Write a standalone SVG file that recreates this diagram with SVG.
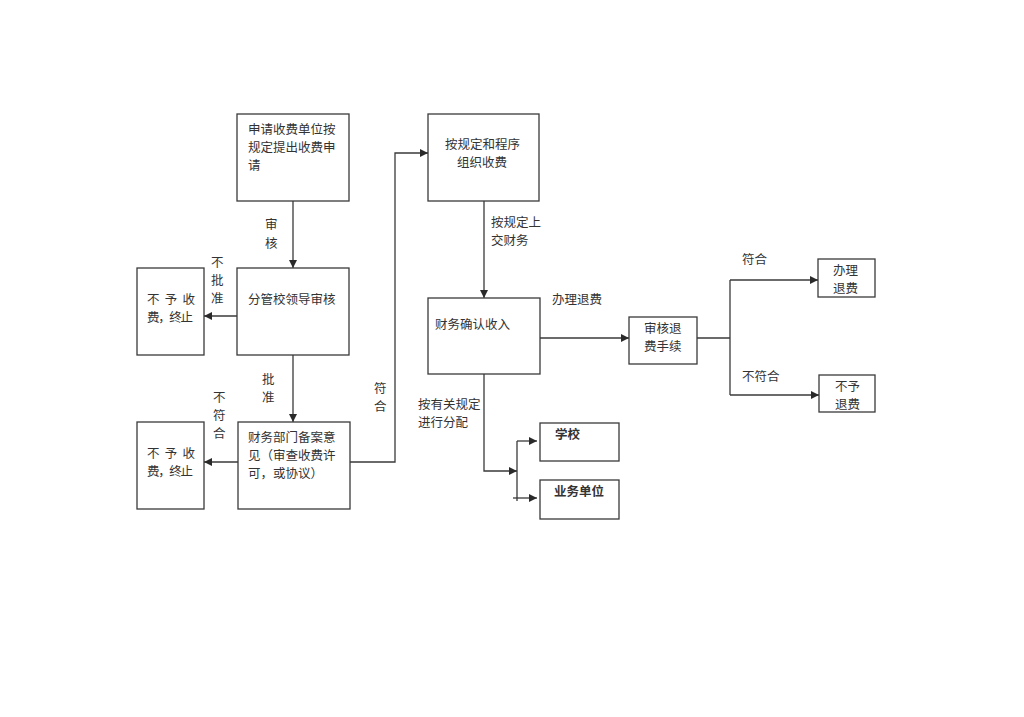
<svg xmlns="http://www.w3.org/2000/svg" width="1024" height="717" viewBox="0 0 1024 717">
<style>
.box{fill:none;stroke:#3a3a3a;stroke-width:1.3}
.ln{fill:none;stroke:#3a3a3a;stroke-width:1.3}
text{font-family:"Noto Sans CJK SC","Liberation Sans",sans-serif;font-size:12.5px;fill:#333;dominant-baseline:central}
.b{font-weight:bold}
</style>
<defs>
<marker id="ar" viewBox="0 0 10 10" refX="10" refY="5" markerWidth="8" markerHeight="8" markerUnits="userSpaceOnUse" orient="auto">
<path d="M0,0 L10,5 L0,10 z" fill="#2a2a2a"/>
</marker>
</defs>
<rect width="1024" height="717" fill="#ffffff"/>
<g id="connectors">
<line class="ln" x1="293" y1="201" x2="293" y2="268" marker-end="url(#ar)"/>
<line class="ln" x1="237" y1="316" x2="204" y2="316" marker-end="url(#ar)"/>
<line class="ln" x1="293" y1="355" x2="293" y2="422" marker-end="url(#ar)"/>
<line class="ln" x1="238" y1="462" x2="204" y2="462" marker-end="url(#ar)"/>
<polyline class="ln" points="350,462 395,462 395,153 428,153" marker-end="url(#ar)"/>
<line class="ln" x1="484" y1="201" x2="484" y2="298" marker-end="url(#ar)"/>
<line class="ln" x1="540" y1="338" x2="629" y2="338" marker-end="url(#ar)"/>
<polyline class="ln" points="697,338 730,338"/>
<line class="ln" x1="730" y1="280" x2="730" y2="395"/>
<line class="ln" x1="730" y1="280" x2="818" y2="280" marker-end="url(#ar)"/>
<line class="ln" x1="730" y1="395" x2="819" y2="395" marker-end="url(#ar)"/>
<polyline class="ln" points="484,374 484,471 517,471" marker-end="url(#ar)"/>
<line class="ln" x1="517" y1="441" x2="517" y2="501"/>
<line class="ln" x1="517" y1="441" x2="537" y2="441" marker-end="url(#ar)"/>
<line class="ln" x1="513" y1="498" x2="537" y2="498" marker-end="url(#ar)"/>
<text x="265" y="223">审</text>
<text x="265" y="242">核</text>
<text x="211" y="261">不</text>
<text x="211" y="279">批</text>
<text x="211" y="297">准</text>
<text x="262" y="378">批</text>
<text x="262" y="396">准</text>
<text x="213" y="396">不</text>
<text x="213" y="414">符</text>
<text x="213" y="432">合</text>
<text x="374" y="387">符</text>
<text x="374" y="405">合</text>
<text x="491" y="221">按规定上</text>
<text x="491" y="239">交财务</text>
<text x="552" y="298">办理退费</text>
<text x="742" y="258">符合</text>
<text x="742" y="375">不符合</text>
<text x="418" y="403">按有关规定</text>
<text x="418" y="421">进行分配</text>
</g>
<g id="apply">
<rect class="box" x="237" y="114" width="112" height="87"/>
<text x="248" y="128">申请收费单位按</text>
<text x="248" y="146">规定提出收费申</text>
<text x="248" y="164">请</text>
</g>
<g id="leader">
<rect class="box" x="237" y="268" width="112" height="87"/>
<text x="248" y="298">分管校领导审核</text>
</g>
<g id="stop1">
<rect class="box" x="137" y="268" width="67" height="87"/>
<text x="147" y="298" textLength="48">不 予 收</text>
<text x="147" y="316" textLength="46">费，终止</text>
</g>
<g id="finance">
<rect class="box" x="238" y="422" width="112" height="87"/>
<text x="248" y="436">财务部门备案意</text>
<text x="248" y="454">见（审查收费许</text>
<text x="248" y="472">可，或协议）</text>
</g>
<g id="stop2">
<rect class="box" x="137" y="422" width="67" height="87"/>
<text x="147" y="452" textLength="48">不 予 收</text>
<text x="147" y="470" textLength="46">费，终止</text>
</g>
<g id="collect">
<rect class="box" x="428" y="114" width="111" height="87"/>
<text x="445" y="143">按规定和程序</text>
<text x="457" y="161">组织收费</text>
</g>
<g id="confirm">
<rect class="box" x="428" y="298" width="112" height="76"/>
<text x="435" y="323">财务确认收入</text>
</g>
<g id="review">
<rect class="box" x="629" y="317" width="68" height="47"/>
<text x="644" y="327">审核退</text>
<text x="644" y="345">费手续</text>
</g>
<g id="refund">
<rect class="box" x="818" y="259" width="57" height="38"/>
<text x="833" y="269">办理</text>
<text x="833" y="287">退费</text>
</g>
<g id="norefund">
<rect class="box" x="819" y="375" width="56" height="37"/>
<text x="835" y="385">不予</text>
<text x="835" y="403">退费</text>
</g>
<g id="school">
<rect class="box" x="540" y="423" width="79" height="38"/>
<text class="b" x="555" y="433">学校</text>
</g>
<g id="unit">
<rect class="box" x="540" y="480" width="79" height="39"/>
<text class="b" x="554" y="490">业务单位</text>
</g>
</svg>
